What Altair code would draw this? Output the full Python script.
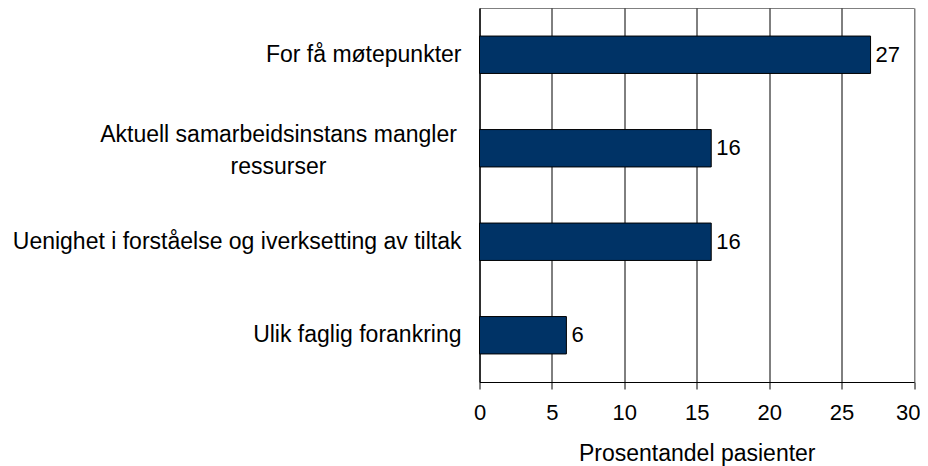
import altair as alt
import pandas as pd

categories = [
    "For få møtepunkter",
    "Aktuell samarbeidsinstans mangler ressurser",
    "Uenighet i forståelse og iverksetting av tiltak",
    "Ulik faglig forankring",
]
display_labels = [
    "For få møtepunkter",
    "Aktuell samarbeidsinstans mangler\nressurser",
    "Uenighet i forståelse og iverksetting av tiltak",
    "Ulik faglig forankring",
]
line_counts = [1, 2, 1, 1]
values = [27, 16, 16, 6]
x_ticks = [0, 5, 10, 15, 20, 25, 30]

df = pd.DataFrame({
    "kategori": categories,
    "etikett": display_labels,
    "linjer": line_counts,
    "verdi": values,
})

FONT = "Liberation Sans"
FS = 22
LFS = 23

y_enc = alt.Y(
    "kategori:N",
    sort=categories,
    scale=alt.Scale(paddingInner=0.6, paddingOuter=0.3),
    axis=alt.Axis(labels=False, ticks=False, title=None, grid=False,
                  domainColor="black", domainWidth=1),
)
x_enc = alt.X(
    "verdi:Q",
    scale=alt.Scale(domain=[0, 30], nice=False, zero=True),
    axis=alt.Axis(
        values=x_ticks,
        title="Prosentandel pasienter",
        grid=True,
        gridColor={"condition": {"test": "datum.value >= 30", "value": "#808080"}, "value": "black"},
        gridWidth=1,
        domainColor="black",
        tickColor="black",
        tickSize=7,
        labelFont=FONT,
        labelFontSize=FS,
        labelColor="black",
        labelBaseline="alphabetic",
        labelPadding=30,
        labelFlush=True,
        labelFlushOffset=6,
        labelOverlap=False,
        titleFont=FONT,
        titleFontSize=LFS,
        titleFontWeight="normal",
        titleColor="black",
        titleBaseline="alphabetic",
        titleY=78,
    ),
)

base = alt.Chart(df)

bars = base.mark_bar(color="#003366", stroke="black", strokeWidth=1).encode(
    x=x_enc, y=y_enc
)

value_text = base.mark_text(
    align="left", baseline="middle", dx=5, font=FONT, fontSize=FS, color="black"
).encode(
    x=alt.X("verdi:Q"),
    y=alt.Y("kategori:N", sort=categories),
    text=alt.Text("verdi:Q"),
)

single_labels = base.transform_filter("datum.linjer == 1").mark_text(
    align="right", baseline="middle", font=FONT, fontSize=LFS, color="black",
).encode(
    x=alt.value(-18),
    y=alt.Y("kategori:N", sort=categories),
    text=alt.Text("etikett:N"),
)

wrapped_labels = base.transform_filter("datum.linjer == 2").mark_text(
    align="center", baseline="middle", font=FONT, fontSize=LFS, color="black",
    lineBreak="\n", lineHeight=31.5, dy=-13,
).encode(
    x=alt.value(-201),
    y=alt.Y("kategori:N", sort=categories),
    text=alt.Text("etikett:N"),
)

chart = alt.layer(bars, value_text, single_labels, wrapped_labels).properties(
    width=434.5,
    height=374,
    autosize=alt.AutoSizeParams(type="none"),
    padding={"left": 471.5, "top": 0, "right": 6, "bottom": 86},
).configure_view(stroke="#808080", strokeWidth=1)

chart.save("out.html", embed_options={"renderer": "svg", "actions": False})
